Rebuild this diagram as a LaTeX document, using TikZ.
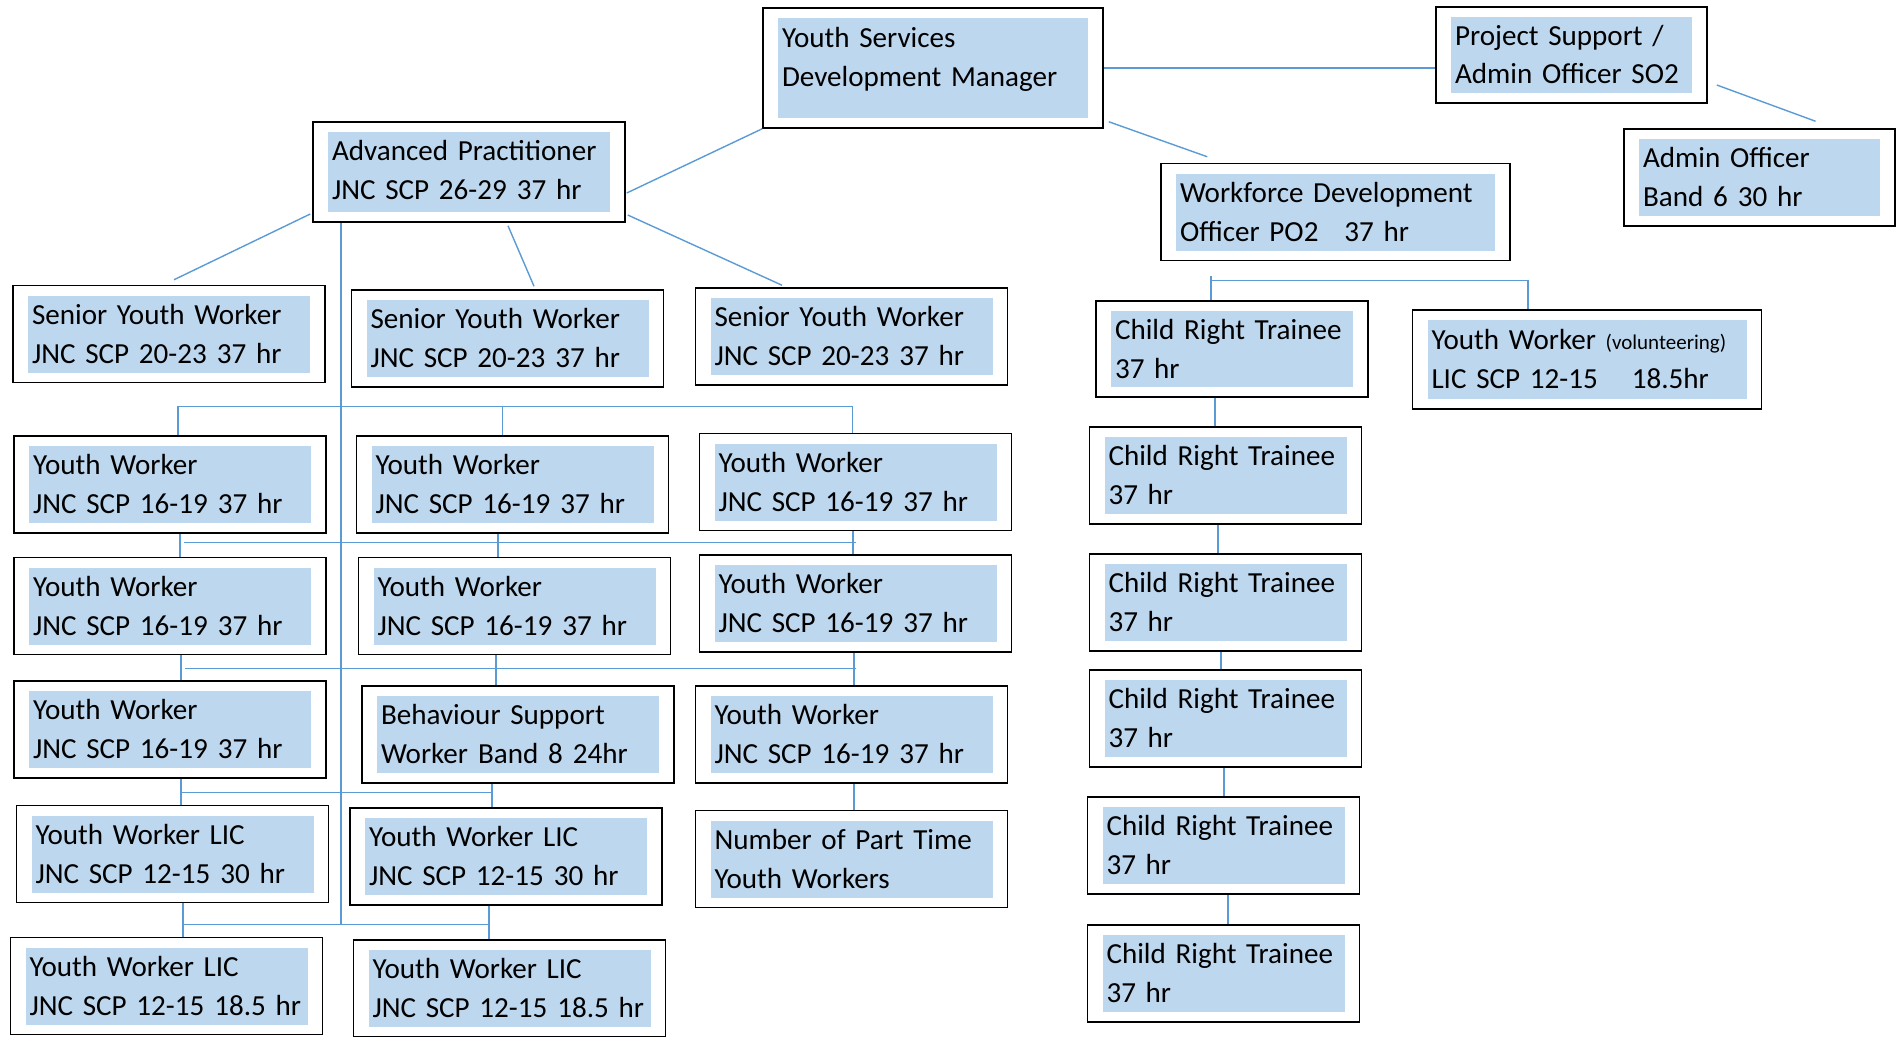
\documentclass[tikz,border=0pt]{standalone}
\usepackage{fontspec}
\setmainfont{Carlito}
\definecolor{roleblue}{HTML}{BDD7EE}
\definecolor{lineblue}{HTML}{5B9BD5}
\newcommand{\roleFont}[0]{\fontsize{29.1pt}{39pt}\selectfont}
\newcommand{\smallNote}[1]{{\fontsize{21pt}{39pt}\selectfont #1}}
\newcommand{\twosp}[0]{\hspace{10pt}}

\begin{document}
\begin{tikzpicture}[x=1pt, y=-1pt]
  \tikzset{
    role/.style={draw=black, line width=1.5pt, fill=white, font=\roleFont,
      align=left, inner xsep=19pt, text width=274pt, minimum height=97pt,
      text height=22pt, text depth=42pt,
      path picture={\fill[roleblue]
        ([shift={(15pt,10pt)}]path picture bounding box.south west) rectangle
        ([shift={(-15pt,-10pt)}]path picture bounding box.north east);}},
    trainee/.style={role, text width=234pt},
    wide/.style={role, text width=311pt},
    link/.style={draw=lineblue, line width=1.4pt}
  }
  \useasboundingbox (0,0) rectangle (1897,1036);

  \node[role, text width=302pt, minimum height=120pt, text depth=64pt] (ysdm) at (933,68) {Youth Services\\Development Manager};
  \node[role, text width=233pt, minimum height=96pt] (ps) at (1571.5,55) {Project Support /\\Admin Officer SO2};
  \node[role, text width=233pt] (ao) at (1759.5,177.5) {Admin Officer\\Band 6\twosp 30 hr};
  \node[role, minimum height=100pt, text depth=46pt] (ap) at (469,172) {Advanced Practitioner\\JNC SCP 26-29\twosp 37 hr};
  \node[wide] (wfd) at (1335.5,212) {Workforce Development\\Officer PO2\hspace{26pt}37 hr};

  \node[role] (syw-1) at (169,334) {Senior Youth Worker\\JNC SCP 20-23\twosp 37 hr};
  \node[role] (syw-2) at (507.5,338.5) {Senior Youth Worker\\JNC SCP 20-23\twosp 37 hr};
  \node[role] (syw-3) at (851.5,336.5) {Senior Youth Worker\\JNC SCP 20-23\twosp 37 hr};

  \node[role] (yw-1-1) at (170,484.5) {Youth Worker\\JNC SCP 16-19\twosp 37 hr};
  \node[role] (yw-1-2) at (512.5,484.5) {Youth Worker\\JNC SCP 16-19\twosp 37 hr};
  \node[role] (yw-1-3) at (855.5,482) {Youth Worker\\JNC SCP 16-19\twosp 37 hr};
  \node[role] (yw-2-1) at (170,606) {Youth Worker\\JNC SCP 16-19\twosp 37 hr};
  \node[role] (yw-2-2) at (514.5,606) {Youth Worker\\JNC SCP 16-19\twosp 37 hr};
  \node[role] (yw-2-3) at (855.5,603.5) {Youth Worker\\JNC SCP 16-19\twosp 37 hr};
  \node[role] (yw-3-1) at (170,729.5) {Youth Worker\\JNC SCP 16-19\twosp 37 hr};
  \node[role] (bsw) at (518,734.5) {Behaviour Support\\Worker\twosp Band 8\twosp 24hr};
  \node[role] (yw-3-3) at (851.5,734.5) {Youth Worker\\JNC SCP 16-19\twosp 37 hr};
  \node[role] (lic-1) at (172.5,854) {Youth Worker LIC\\JNC SCP 12-15\twosp 30 hr};
  \node[role] (lic-2) at (506,856.5) {Youth Worker LIC\\JNC SCP 12-15\twosp 30 hr};
  \node[role] (npt) at (851.5,859) {Number of Part Time\\Youth Workers};
  \node[role] (lic-3) at (166.5,986) {Youth Worker LIC\\JNC SCP 12-15\twosp 18.5 hr};
  \node[role] (lic-4) at (509.5,988.5) {Youth Worker LIC\\JNC SCP 12-15\twosp 18.5 hr};

  \node[trainee, minimum height=96pt] (crt-1) at (1232,349) {Child Right Trainee\\37 hr};
  \node[trainee] (crt-2) at (1225.5,475.5) {Child Right Trainee\\37 hr};
  \node[trainee] (crt-3) at (1225.5,602.5) {Child Right Trainee\\37 hr};
  \node[trainee] (crt-4) at (1225.5,718.5) {Child Right Trainee\\37 hr};
  \node[trainee] (crt-5) at (1223.5,845.5) {Child Right Trainee\\37 hr};
  \node[trainee] (crt-6) at (1223.5,973.5) {Child Right Trainee\\37 hr};
  \node[wide, minimum height=99pt] (vol) at (1587,359.5) {Youth Worker \smallNote{(volunteering)}\\LIC SCP 12-15\hspace{34pt}18.5hr};

  \draw[link] (ysdm.east) -- (ysdm.east -| ps.west);
  \coordinate (ps-ao-a) at ([shift={(9,30)}]ps.east);
  \coordinate (ps-ao-b) at ([shift={(56,-7)}]ao.north);
  \draw[link] (ps-ao-a) -- (ps-ao-b);
  \draw[link] ([shift={(5,-7)}]ysdm.south east) -- ([shift={(47,-6)}]wfd.north west);
  \draw[link] (ysdm.south west) -- ([shift={(1,21)}]ap.east);

  \draw[link] ([shift={(-2,42)}]ap.west) -- ([shift={(5,-5)}]syw-1.north);
  \draw[link] ([shift={(39,3)}]ap.south) -- ([shift={(26.5,-3)}]syw-2.north);
  \draw[link] ([shift={(2,43)}]ap.east) -- ([shift={(-69.5,-2)}]syw-3.north);

  \coordinate (trunk) at ([xshift=-128pt]ap.south);
  \coordinate (bus-1) at ([shift={(0,-29)}]yw-1-1.north);
  \coordinate (bus-2) at ([shift={(0,9)}]yw-1-1.south);
  \coordinate (bus-3) at ([shift={(0,13)}]yw-2-1.south);
  \coordinate (bus-4) at ([shift={(0,14)}]yw-3-1.south);
  \coordinate (bus-5) at ([shift={(0,21)}]lic-1.south);
  \draw[link] (trunk) -- (trunk |- bus-5);

  \draw[link] ([xshift=8pt]yw-1-1.north) |- ([xshift=-3pt]yw-1-3.north |- bus-1) -- ([xshift=-3pt]yw-1-3.north);
  \draw[link] ([xshift=-10pt]yw-1-2.north) -- ([xshift=-10pt]yw-1-2.north |- bus-1);

  \draw[link] ([xshift=10pt]yw-1-1.south) -- ([xshift=10pt]yw-2-1.north);
  \draw[link] ([xshift=-14.5pt]yw-1-2.south) -- ([xshift=-16.5pt]yw-2-2.north);
  \draw[link] ([xshift=-2.5pt]yw-1-3.south) -- ([xshift=-2.5pt]yw-2-3.north);
  \draw[link] ([xshift=14pt]yw-1-1.south |- bus-2) -- (yw-1-3.south |- bus-2);

  \draw[link] ([xshift=11pt]yw-2-1.south) -- ([xshift=11pt]yw-3-1.north);
  \draw[link] ([xshift=-18.5pt]yw-2-2.south) -- ([xshift=-22pt]bsw.north);
  \draw[link] ([xshift=-1.5pt]yw-2-3.south) -- ([xshift=2.5pt]yw-3-3.north);
  \draw[link] ([xshift=15pt]yw-2-1.south |- bus-3) -- (yw-2-3.south |- bus-3);

  \draw[link] ([xshift=11pt]yw-3-1.south) -- ([xshift=8.5pt]lic-1.north);
  \draw[link] ([xshift=-26pt]bsw.south) -- ([xshift=-14pt]lic-2.north);
  \draw[link] ([xshift=11pt]yw-3-1.south |- bus-4) -- ([xshift=-26pt]bsw.south |- bus-4);
  \draw[link] ([xshift=2.5pt]yw-3-3.south) -- ([xshift=2.5pt]npt.north);

  \draw[link] ([xshift=10.5pt]lic-1.south) -- ([xshift=16.5pt]lic-3.north);
  \draw[link] ([xshift=-17pt]lic-2.south) -- ([xshift=-20.5pt]lic-4.north);
  \draw[link] ([xshift=10.5pt]lic-1.south |- bus-5) -- ([xshift=-17pt]lic-2.south |- bus-5);

  \coordinate (wfd-bus) at ([shift={(0,19)}]wfd.south);
  \draw[link] ([xshift=-21pt]crt-1.north) -- ++(0,-24);
  \draw[link] ([xshift=-21pt]crt-1.north |- wfd-bus) -| ([xshift=-59pt]vol.north);

  \draw[link] ([xshift=-17pt]crt-1.south) -- ([xshift=-10.5pt]crt-2.north);
  \draw[link] ([xshift=-7.5pt]crt-2.south) -- ([xshift=-7.5pt]crt-3.north);
  \draw[link] ([xshift=-4.5pt]crt-3.south) -- ([xshift=-4.5pt]crt-4.north);
  \draw[link] ([xshift=-1.5pt]crt-4.south) -- ([xshift=0.5pt]crt-5.north);
  \draw[link] ([xshift=4.5pt]crt-5.south) -- ([xshift=4.5pt]crt-6.north);
\end{tikzpicture}
\end{document}
